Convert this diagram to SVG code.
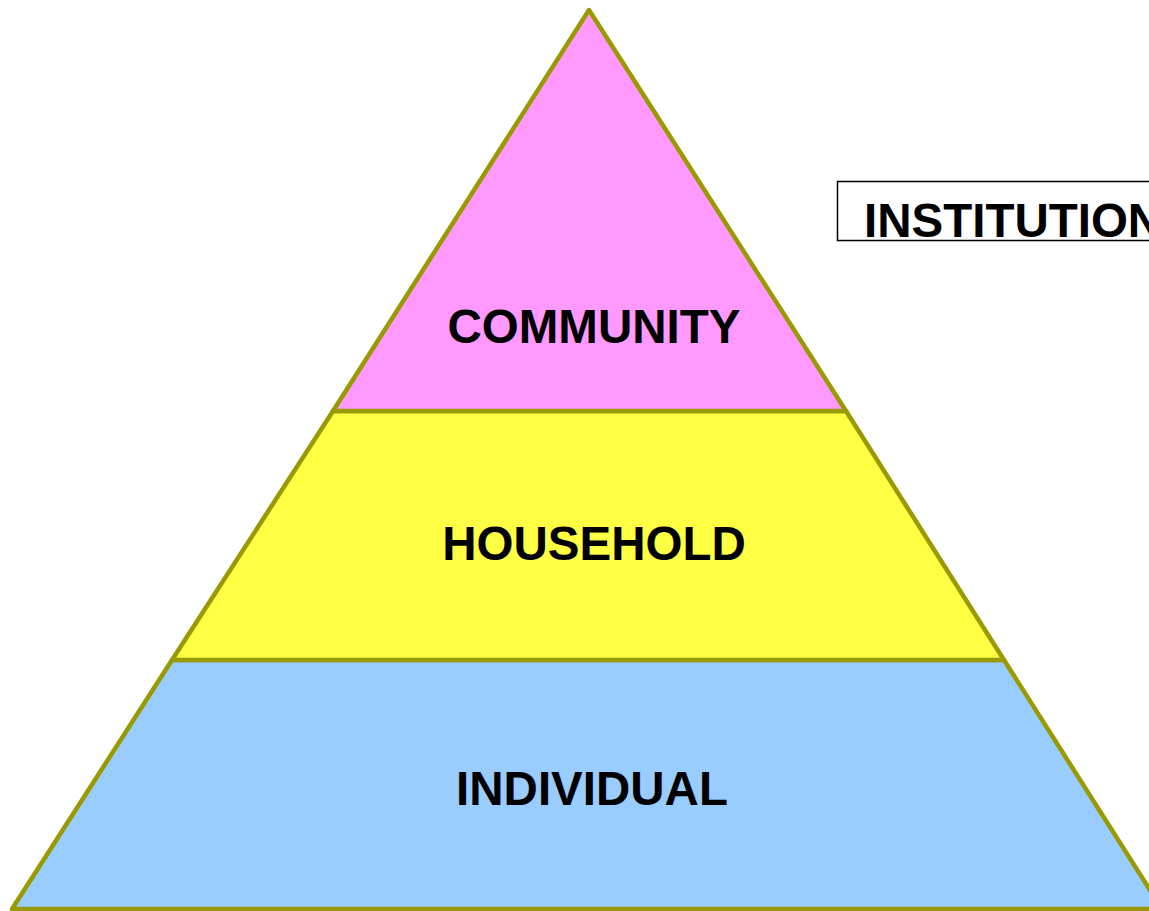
<svg xmlns="http://www.w3.org/2000/svg" width="1149" height="911" viewBox="0 0 1149 911">
  <style>
    .tier { stroke: #999900; stroke-width: 4.5; stroke-linejoin: round; }
    .label { font-family: "Liberation Sans", Arial, sans-serif; font-weight: bold; font-size: 47.5px; fill: #000000; text-anchor: middle; }
    .tag { font-family: "Liberation Sans", Arial, sans-serif; font-weight: bold; font-size: 47.5px; fill: #000000; }
  </style>
  <rect width="1149" height="911" fill="#ffffff"/>

  <!-- bottom tier -->
  <g id="individual">
    <polygon class="tier" fill="#99CCFF" points="172,660 1004,660 1162,909 12,909"/>
    <text class="label" x="592" y="805">INDIVIDUAL</text>
  </g>

  <!-- middle tier -->
  <g id="household">
    <polygon class="tier" fill="#FFFF44" points="333,411 846,411 1004,660 172,660"/>
    <text class="label" x="594" y="560">HOUSEHOLD</text>
  </g>

  <!-- top tier -->
  <g id="community">
    <polygon class="tier" fill="#FF99FF" points="589,10 846,411 333,411"/>
    <text class="label" x="594" y="343">COMMUNITY</text>
  </g>

  <!-- side label box, running past the right edge -->
  <g id="institutions">
    <rect x="837.5" y="181.5" width="330" height="59" fill="#ffffff" stroke="#000000" stroke-width="1.5"/>
    <text class="tag" x="864" y="237">INSTITUTION</text>
  </g>

  <g id="connectors"/>
</svg>
